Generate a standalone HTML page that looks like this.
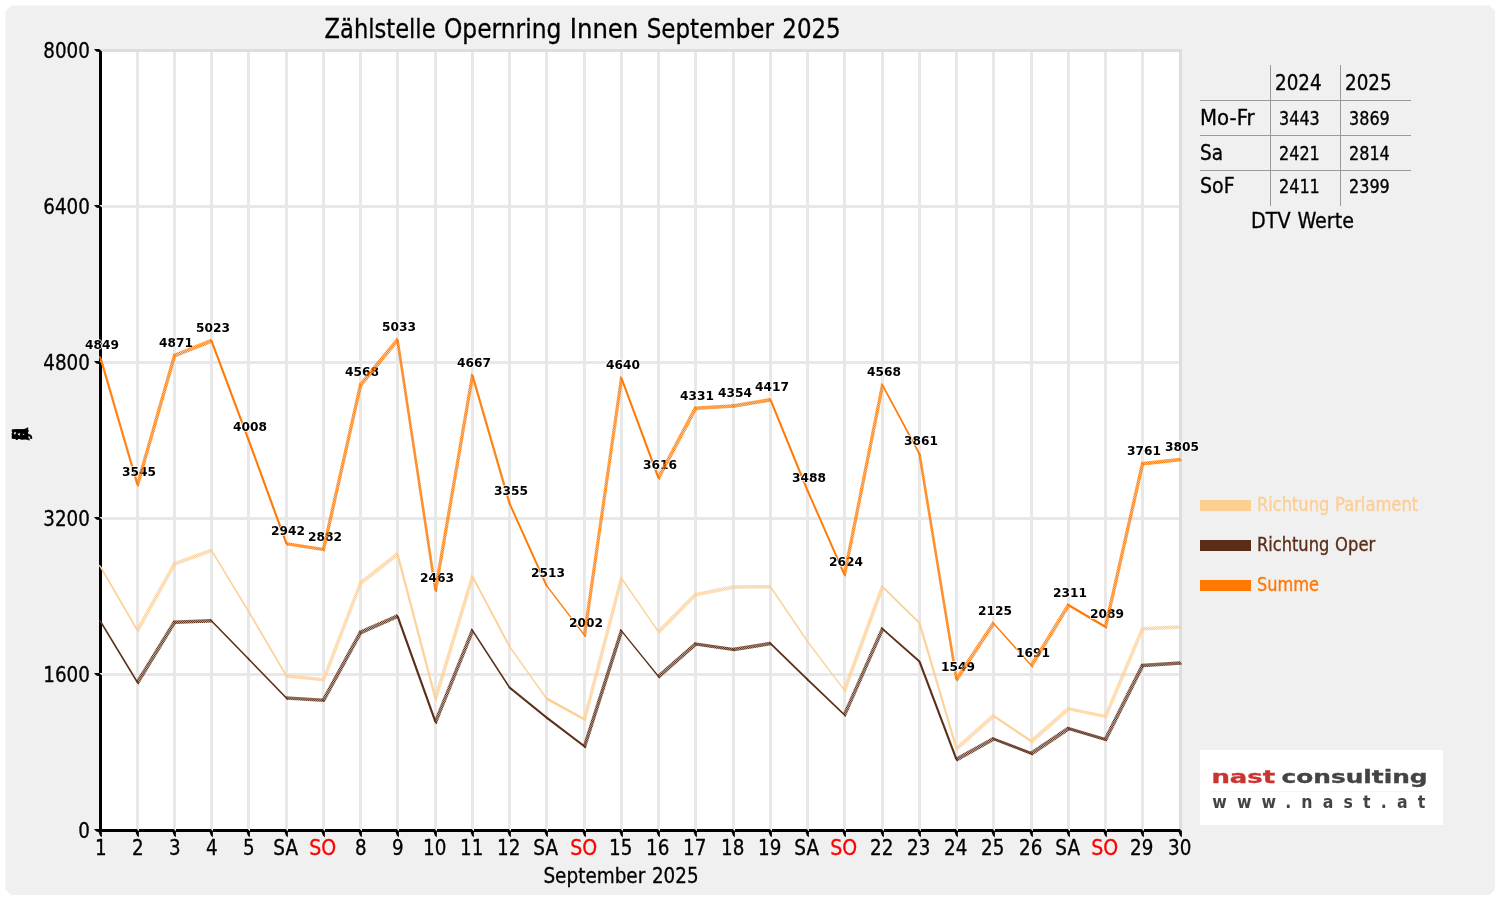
<!DOCTYPE html>
<html lang="de"><head><meta charset="utf-8"><title>Zählstelle Opernring Innen September 2025</title>
<style>
html,body{margin:0;padding:0;background:#fff;}
body{width:1500px;height:900px;overflow:hidden;}
svg{display:block;}
text{font-family:'DejaVu Sans Condensed','DejaVu Sans','Liberation Sans',sans-serif;stroke-width:0.3px;}
.dl{font-family:'DejaVu Sans','Liberation Sans',sans-serif;font-weight:bold;font-size:12.8px;paint-order:stroke;stroke:#fff;stroke-width:1.6px;stroke-linejoin:round;}
</style></head><body>
<svg width="1500" height="900" viewBox="0 0 1500 900">
<defs>
<pattern id="hp0" width="1.525" height="8" patternUnits="userSpaceOnUse" patternTransform="rotate(-40.3)"><rect width="1.525" height="8" fill="#fdcf95" fill-opacity="0.35"/><rect width="0.762" height="8" fill="#fdcf95"/></pattern>
<pattern id="hp1" width="1.525" height="8" patternUnits="userSpaceOnUse" patternTransform="rotate(-40.3)"><rect width="1.525" height="8" fill="#fdcf95" fill-opacity="0.45"/><rect width="0.762" height="8" fill="#fdcf95"/></pattern>
<pattern id="hp2" width="1.525" height="8" patternUnits="userSpaceOnUse" patternTransform="rotate(-40.3)"><rect width="1.525" height="8" fill="#fdcf95" fill-opacity="0.55"/><rect width="0.762" height="8" fill="#fdcf95"/></pattern>
<pattern id="hp3" width="1.525" height="8" patternUnits="userSpaceOnUse" patternTransform="rotate(-40.3)"><rect width="1.525" height="8" fill="#fdcf95" fill-opacity="0.65"/><rect width="0.762" height="8" fill="#fdcf95"/></pattern>
<pattern id="hp4" width="1.525" height="8" patternUnits="userSpaceOnUse" patternTransform="rotate(-40.3)"><rect width="1.525" height="8" fill="#fdcf95" fill-opacity="0.75"/><rect width="0.762" height="8" fill="#fdcf95"/></pattern>
<pattern id="hp5" width="1.525" height="8" patternUnits="userSpaceOnUse" patternTransform="rotate(-40.3)"><rect width="1.525" height="8" fill="#fdcf95" fill-opacity="0.85"/><rect width="0.762" height="8" fill="#fdcf95"/></pattern>
<pattern id="hp6" width="1.525" height="8" patternUnits="userSpaceOnUse" patternTransform="rotate(-40.3)"><rect width="1.525" height="8" fill="#fdcf95" fill-opacity="1.0"/><rect width="0.762" height="8" fill="#fdcf95"/></pattern>
<pattern id="ho0" width="1.525" height="8" patternUnits="userSpaceOnUse" patternTransform="rotate(-40.3)"><rect width="1.525" height="8" fill="#5a2e18" fill-opacity="0.35"/><rect width="0.762" height="8" fill="#5a2e18"/></pattern>
<pattern id="ho1" width="1.525" height="8" patternUnits="userSpaceOnUse" patternTransform="rotate(-40.3)"><rect width="1.525" height="8" fill="#5a2e18" fill-opacity="0.45"/><rect width="0.762" height="8" fill="#5a2e18"/></pattern>
<pattern id="ho2" width="1.525" height="8" patternUnits="userSpaceOnUse" patternTransform="rotate(-40.3)"><rect width="1.525" height="8" fill="#5a2e18" fill-opacity="0.55"/><rect width="0.762" height="8" fill="#5a2e18"/></pattern>
<pattern id="ho3" width="1.525" height="8" patternUnits="userSpaceOnUse" patternTransform="rotate(-40.3)"><rect width="1.525" height="8" fill="#5a2e18" fill-opacity="0.65"/><rect width="0.762" height="8" fill="#5a2e18"/></pattern>
<pattern id="ho4" width="1.525" height="8" patternUnits="userSpaceOnUse" patternTransform="rotate(-40.3)"><rect width="1.525" height="8" fill="#5a2e18" fill-opacity="0.75"/><rect width="0.762" height="8" fill="#5a2e18"/></pattern>
<pattern id="ho5" width="1.525" height="8" patternUnits="userSpaceOnUse" patternTransform="rotate(-40.3)"><rect width="1.525" height="8" fill="#5a2e18" fill-opacity="0.85"/><rect width="0.762" height="8" fill="#5a2e18"/></pattern>
<pattern id="ho6" width="1.525" height="8" patternUnits="userSpaceOnUse" patternTransform="rotate(-40.3)"><rect width="1.525" height="8" fill="#5a2e18" fill-opacity="1.0"/><rect width="0.762" height="8" fill="#5a2e18"/></pattern>
<pattern id="hs0" width="1.525" height="8" patternUnits="userSpaceOnUse" patternTransform="rotate(-40.3)"><rect width="1.525" height="8" fill="#ff7a05" fill-opacity="0.35"/><rect width="0.762" height="8" fill="#ff7a05"/></pattern>
<pattern id="hs1" width="1.525" height="8" patternUnits="userSpaceOnUse" patternTransform="rotate(-40.3)"><rect width="1.525" height="8" fill="#ff7a05" fill-opacity="0.45"/><rect width="0.762" height="8" fill="#ff7a05"/></pattern>
<pattern id="hs2" width="1.525" height="8" patternUnits="userSpaceOnUse" patternTransform="rotate(-40.3)"><rect width="1.525" height="8" fill="#ff7a05" fill-opacity="0.55"/><rect width="0.762" height="8" fill="#ff7a05"/></pattern>
<pattern id="hs3" width="1.525" height="8" patternUnits="userSpaceOnUse" patternTransform="rotate(-40.3)"><rect width="1.525" height="8" fill="#ff7a05" fill-opacity="0.65"/><rect width="0.762" height="8" fill="#ff7a05"/></pattern>
<pattern id="hs4" width="1.525" height="8" patternUnits="userSpaceOnUse" patternTransform="rotate(-40.3)"><rect width="1.525" height="8" fill="#ff7a05" fill-opacity="0.75"/><rect width="0.762" height="8" fill="#ff7a05"/></pattern>
<pattern id="hs5" width="1.525" height="8" patternUnits="userSpaceOnUse" patternTransform="rotate(-40.3)"><rect width="1.525" height="8" fill="#ff7a05" fill-opacity="0.85"/><rect width="0.762" height="8" fill="#ff7a05"/></pattern>
<pattern id="hs6" width="1.525" height="8" patternUnits="userSpaceOnUse" patternTransform="rotate(-40.3)"><rect width="1.525" height="8" fill="#ff7a05" fill-opacity="1.0"/><rect width="0.762" height="8" fill="#ff7a05"/></pattern>
</defs>
<rect width="1500" height="900" fill="#ffffff"/>
<polygon fill="#f0f0f0" points="11.0,5.5 1489.5,5.5 1495,11.0 1495,889.5 1489.5,895 11.0,895 5.5,889.5 5.5,11.0"/>
<rect x="100" y="49" width="1082" height="782" fill="#ffffff"/>
<g fill="#e8e8e8">
<rect x="136.0" y="49" width="3" height="781"/>
<rect x="173.0" y="49" width="3" height="781"/>
<rect x="210.0" y="49" width="3" height="781"/>
<rect x="247.0" y="49" width="3" height="781"/>
<rect x="285.0" y="49" width="3" height="781"/>
<rect x="322.0" y="49" width="3" height="781"/>
<rect x="359.0" y="49" width="3" height="781"/>
<rect x="396.0" y="49" width="3" height="781"/>
<rect x="434.0" y="49" width="3" height="781"/>
<rect x="471.0" y="49" width="3" height="781"/>
<rect x="508.0" y="49" width="3" height="781"/>
<rect x="545.0" y="49" width="3" height="781"/>
<rect x="583.0" y="49" width="3" height="781"/>
<rect x="620.0" y="49" width="3" height="781"/>
<rect x="657.0" y="49" width="3" height="781"/>
<rect x="694.0" y="49" width="3" height="781"/>
<rect x="732.0" y="49" width="3" height="781"/>
<rect x="769.0" y="49" width="3" height="781"/>
<rect x="806.0" y="49" width="3" height="781"/>
<rect x="843.0" y="49" width="3" height="781"/>
<rect x="881.0" y="49" width="3" height="781"/>
<rect x="918.0" y="49" width="3" height="781"/>
<rect x="955.0" y="49" width="3" height="781"/>
<rect x="992.0" y="49" width="3" height="781"/>
<rect x="1030.0" y="49" width="3" height="781"/>
<rect x="1067.0" y="49" width="3" height="781"/>
<rect x="1104.0" y="49" width="3" height="781"/>
<rect x="1141.0" y="49" width="3" height="781"/>
<rect x="100" y="673.00" width="1082" height="3"/>
<rect x="100" y="517.00" width="1082" height="3"/>
<rect x="100" y="361.00" width="1082" height="3"/>
<rect x="100" y="205.00" width="1082" height="3"/>
<rect x="100" y="49.00" width="1082" height="3"/>
</g>
<rect x="1179" y="49" width="3" height="781" fill="#dddddd"/>
<rect x="100" y="49" width="1082" height="3" fill="#dddddd"/>
<rect x="99" y="49" width="3" height="783" fill="#000"/>
<rect x="99" y="829" width="1083" height="3" fill="#000"/>
<g fill="#000">
<polygon points="98.1,829 101.9,831.5 101.9,837.3 100.0,835.7 98.2,831"/>
<polygon points="135.1,829 138.9,831.5 138.9,837.3 137.0,835.7 135.2,831"/>
<polygon fill="#e8e8e8" points="136.7,829 139.0,829 139.0,831.2"/>
<polygon points="172.1,829 175.9,831.5 175.9,837.3 174.0,835.7 172.2,831"/>
<polygon fill="#e8e8e8" points="173.7,829 176.0,829 176.0,831.2"/>
<polygon points="209.1,829 212.9,831.5 212.9,837.3 211.0,835.7 209.2,831"/>
<polygon fill="#e8e8e8" points="210.7,829 213.0,829 213.0,831.2"/>
<polygon points="246.1,829 249.9,831.5 249.9,837.3 248.0,835.7 246.2,831"/>
<polygon fill="#e8e8e8" points="247.7,829 250.0,829 250.0,831.2"/>
<polygon points="284.1,829 287.9,831.5 287.9,837.3 286.0,835.7 284.2,831"/>
<polygon fill="#e8e8e8" points="285.7,829 288.0,829 288.0,831.2"/>
<polygon points="321.1,829 324.9,831.5 324.9,837.3 323.0,835.7 321.2,831"/>
<polygon fill="#e8e8e8" points="322.7,829 325.0,829 325.0,831.2"/>
<polygon points="358.1,829 361.9,831.5 361.9,837.3 360.0,835.7 358.2,831"/>
<polygon fill="#e8e8e8" points="359.7,829 362.0,829 362.0,831.2"/>
<polygon points="395.1,829 398.9,831.5 398.9,837.3 397.0,835.7 395.2,831"/>
<polygon fill="#e8e8e8" points="396.7,829 399.0,829 399.0,831.2"/>
<polygon points="433.1,829 436.9,831.5 436.9,837.3 435.0,835.7 433.2,831"/>
<polygon fill="#e8e8e8" points="434.7,829 437.0,829 437.0,831.2"/>
<polygon points="470.1,829 473.9,831.5 473.9,837.3 472.0,835.7 470.2,831"/>
<polygon fill="#e8e8e8" points="471.7,829 474.0,829 474.0,831.2"/>
<polygon points="507.1,829 510.9,831.5 510.9,837.3 509.0,835.7 507.2,831"/>
<polygon fill="#e8e8e8" points="508.7,829 511.0,829 511.0,831.2"/>
<polygon points="544.1,829 547.9,831.5 547.9,837.3 546.0,835.7 544.2,831"/>
<polygon fill="#e8e8e8" points="545.7,829 548.0,829 548.0,831.2"/>
<polygon points="582.1,829 585.9,831.5 585.9,837.3 584.0,835.7 582.2,831"/>
<polygon fill="#e8e8e8" points="583.7,829 586.0,829 586.0,831.2"/>
<polygon points="619.1,829 622.9,831.5 622.9,837.3 621.0,835.7 619.2,831"/>
<polygon fill="#e8e8e8" points="620.7,829 623.0,829 623.0,831.2"/>
<polygon points="656.1,829 659.9,831.5 659.9,837.3 658.0,835.7 656.2,831"/>
<polygon fill="#e8e8e8" points="657.7,829 660.0,829 660.0,831.2"/>
<polygon points="693.1,829 696.9,831.5 696.9,837.3 695.0,835.7 693.2,831"/>
<polygon fill="#e8e8e8" points="694.7,829 697.0,829 697.0,831.2"/>
<polygon points="731.1,829 734.9,831.5 734.9,837.3 733.0,835.7 731.2,831"/>
<polygon fill="#e8e8e8" points="732.7,829 735.0,829 735.0,831.2"/>
<polygon points="768.1,829 771.9,831.5 771.9,837.3 770.0,835.7 768.2,831"/>
<polygon fill="#e8e8e8" points="769.7,829 772.0,829 772.0,831.2"/>
<polygon points="805.1,829 808.9,831.5 808.9,837.3 807.0,835.7 805.2,831"/>
<polygon fill="#e8e8e8" points="806.7,829 809.0,829 809.0,831.2"/>
<polygon points="842.1,829 845.9,831.5 845.9,837.3 844.0,835.7 842.2,831"/>
<polygon fill="#e8e8e8" points="843.7,829 846.0,829 846.0,831.2"/>
<polygon points="880.1,829 883.9,831.5 883.9,837.3 882.0,835.7 880.2,831"/>
<polygon fill="#e8e8e8" points="881.7,829 884.0,829 884.0,831.2"/>
<polygon points="917.1,829 920.9,831.5 920.9,837.3 919.0,835.7 917.2,831"/>
<polygon fill="#e8e8e8" points="918.7,829 921.0,829 921.0,831.2"/>
<polygon points="954.1,829 957.9,831.5 957.9,837.3 956.0,835.7 954.2,831"/>
<polygon fill="#e8e8e8" points="955.7,829 958.0,829 958.0,831.2"/>
<polygon points="991.1,829 994.9,831.5 994.9,837.3 993.0,835.7 991.2,831"/>
<polygon fill="#e8e8e8" points="992.7,829 995.0,829 995.0,831.2"/>
<polygon points="1029.1,829 1032.9,831.5 1032.9,837.3 1031.0,835.7 1029.2,831"/>
<polygon fill="#e8e8e8" points="1030.7,829 1033.0,829 1033.0,831.2"/>
<polygon points="1066.1,829 1069.9,831.5 1069.9,837.3 1068.0,835.7 1066.2,831"/>
<polygon fill="#e8e8e8" points="1067.7,829 1070.0,829 1070.0,831.2"/>
<polygon points="1103.1,829 1106.9,831.5 1106.9,837.3 1105.0,835.7 1103.2,831"/>
<polygon fill="#e8e8e8" points="1104.7,829 1107.0,829 1107.0,831.2"/>
<polygon points="1140.1,829 1143.9,831.5 1143.9,837.3 1142.0,835.7 1140.2,831"/>
<polygon fill="#e8e8e8" points="1141.7,829 1144.0,829 1144.0,831.2"/>
<polygon points="1178.1,829 1181.9,831.5 1181.9,837.3 1180.0,835.7 1178.2,831"/>
<polygon fill="#dddddd" points="1179.7,829 1182.0,829 1182.0,831.2"/>
<polygon points="94,829.00 99.0,829.00 102,831.80 102,832.00 99,832.00 96.2,831.50"/>
<polygon points="94,673.00 99.0,673.00 102,675.80 102,676.00 99,676.00 96.2,675.50"/>
<polygon fill="#e8e8e8" points="99.2,673.00 102,673.00 102,675.60"/>
<polygon points="94,517.00 99.0,517.00 102,519.80 102,520.00 99,520.00 96.2,519.50"/>
<polygon fill="#e8e8e8" points="99.2,517.00 102,517.00 102,519.60"/>
<polygon points="94,361.00 99.0,361.00 102,363.80 102,364.00 99,364.00 96.2,363.50"/>
<polygon fill="#e8e8e8" points="99.2,361.00 102,361.00 102,363.60"/>
<polygon points="94,205.00 99.0,205.00 102,207.80 102,208.00 99,208.00 96.2,207.50"/>
<polygon fill="#e8e8e8" points="99.2,205.00 102,205.00 102,207.60"/>
<polygon points="94,49.00 99.0,49.00 102,51.80 102,52.00 99,52.00 96.2,51.50"/>
<polygon fill="#e8e8e8" points="99.2,49.00 102,49.00 102,51.60"/>
</g>
<polygon fill="url(#hp6)" points="99.00,565.66 99.09,565.34 99.33,565.10 99.65,565.01 99.98,565.10 100.21,565.34 101.91,567.54 138.91,631.21 139.00,631.53 138.91,631.86 138.67,632.09 138.35,632.18 138.03,632.09 137.79,631.86 136.09,629.66 99.09,565.99"/>
<polygon fill="url(#hp0)" points="136.00,629.33 136.09,629.00 173.09,562.51 173.33,562.27 173.65,562.18 173.97,562.27 174.21,562.51 175.91,564.71 176.00,565.03 175.91,565.36 138.91,631.86 138.67,632.09 138.35,632.18 138.03,632.09 137.79,631.86 136.09,629.66"/>
<polygon fill="url(#hp0)" points="173.00,562.83 173.09,562.51 173.33,562.27 210.33,548.72 210.65,548.63 210.97,548.72 211.21,548.96 212.91,551.16 213.00,551.48 212.91,551.81 212.67,552.05 175.67,565.60 175.35,565.68 175.03,565.60 174.79,565.36 173.09,563.16"/>
<polygon fill="url(#hp6)" points="210.00,549.28 210.09,548.96 210.33,548.72 210.65,548.63 210.97,548.72 211.21,548.96 212.91,551.16 249.91,612.09 250.00,612.42 249.91,612.75 249.67,612.98 249.35,613.07 249.03,612.98 248.79,612.75 247.09,610.54 210.09,549.61"/>
<polygon fill="url(#hp6)" points="247.00,610.22 247.09,609.89 247.33,609.66 247.65,609.57 247.97,609.66 248.21,609.89 249.91,612.09 287.91,676.83 288.00,677.16 287.91,677.49 287.68,677.72 287.35,677.81 287.03,677.72 286.79,677.49 285.09,675.28 247.09,610.54"/>
<polygon fill="url(#hp2)" points="285.00,674.96 285.09,674.63 285.32,674.40 285.65,674.31 322.65,678.11 322.97,678.20 323.21,678.44 324.91,680.64 325.00,680.96 324.91,681.29 324.68,681.53 324.35,681.61 287.35,677.81 287.03,677.72 286.79,677.49 285.09,675.28"/>
<polygon fill="url(#hp0)" points="322.00,678.76 322.09,678.44 359.09,581.72 359.32,581.48 359.65,581.39 359.97,581.48 360.21,581.72 361.91,583.92 362.00,584.24 361.91,584.57 324.91,681.29 324.68,681.53 324.35,681.61 324.03,681.53 323.79,681.29 322.09,679.09"/>
<polygon fill="url(#hp0)" points="359.00,582.04 359.09,581.72 359.32,581.48 396.32,552.52 396.65,552.43 396.97,552.52 397.21,552.76 398.91,554.96 399.00,555.28 398.91,555.61 398.68,555.85 361.68,584.81 361.35,584.89 361.03,584.81 360.79,584.57 359.09,582.37"/>
<polygon fill="url(#hp5)" points="396.00,553.08 396.09,552.76 396.32,552.52 396.65,552.43 396.97,552.52 397.21,552.76 398.91,554.96 399.00,555.28 437.00,699.88 436.91,700.20 436.68,700.44 436.35,700.53 436.03,700.44 435.79,700.20 434.09,698.00 434.00,697.68"/>
<polygon fill="url(#hp1)" points="434.00,697.68 434.09,697.35 471.09,575.09 471.32,574.85 471.65,574.76 471.97,574.85 472.21,575.09 473.91,577.29 474.00,577.61 473.91,577.94 436.91,700.20 436.68,700.44 436.35,700.53 436.03,700.44 435.79,700.20 434.09,698.00"/>
<polygon fill="url(#hp6)" points="471.00,575.41 471.09,575.09 471.32,574.85 471.65,574.76 471.97,574.85 472.21,575.09 473.91,577.29 510.91,647.19 511.00,647.52 510.91,647.85 510.68,648.08 510.35,648.17 510.03,648.08 509.79,647.85 508.09,645.64 471.09,575.74"/>
<polygon fill="url(#hp6)" points="508.00,645.32 508.09,644.99 508.32,644.76 508.65,644.67 508.97,644.76 509.21,644.99 510.91,647.19 547.91,699.26 548.00,699.59 547.91,699.91 547.68,700.15 547.35,700.24 547.02,700.15 546.79,699.91 545.09,697.71 508.09,645.64"/>
<polygon fill="url(#hp6)" points="545.00,697.38 545.09,697.06 545.32,696.82 545.65,696.74 545.98,696.82 583.98,717.69 584.21,717.92 585.91,720.12 586.00,720.45 585.91,720.78 585.68,721.01 585.35,721.10 585.02,721.01 547.02,700.15 546.79,699.91 545.09,697.71"/>
<polygon fill="url(#hp1)" points="583.00,718.25 620.00,577.07 620.09,576.74 620.32,576.51 620.65,576.42 620.98,576.51 621.21,576.74 622.91,578.94 623.00,579.27 586.00,720.45 585.91,720.78 585.68,721.01 585.35,721.10 585.02,721.01 584.79,720.78 583.09,718.58"/>
<polygon fill="url(#hp6)" points="620.00,577.07 620.09,576.74 620.32,576.51 620.65,576.42 620.98,576.51 621.21,576.74 622.91,578.94 659.91,632.67 660.00,632.99 659.91,633.32 659.68,633.56 659.35,633.64 659.02,633.56 658.79,633.32 657.09,631.12 620.09,577.39"/>
<polygon fill="url(#hp0)" points="657.00,630.79 657.09,630.47 694.09,593.22 694.32,592.98 694.65,592.90 694.98,592.98 695.21,593.22 696.91,595.42 697.00,595.75 696.91,596.07 659.91,633.32 659.68,633.56 659.35,633.64 659.02,633.56 658.79,633.32 657.09,631.12"/>
<polygon fill="url(#hp0)" points="694.00,593.55 694.09,593.22 694.32,592.98 694.65,592.90 732.65,585.19 732.98,585.28 733.21,585.52 734.91,587.72 735.00,588.04 734.91,588.37 734.68,588.61 734.35,588.69 696.35,596.40 696.02,596.31 695.79,596.07 694.09,593.87"/>
<polygon fill="url(#hp1)" points="732.00,585.84 732.09,585.52 732.32,585.28 732.65,585.19 769.65,585.10 769.98,585.18 770.21,585.42 771.91,587.62 772.00,587.95 771.91,588.27 771.68,588.51 771.35,588.60 734.35,588.69 734.02,588.61 733.79,588.37 732.09,586.17"/>
<polygon fill="url(#hp6)" points="769.00,585.75 769.09,585.42 769.32,585.18 769.65,585.10 769.98,585.18 770.21,585.42 771.91,587.62 808.91,642.22 809.00,642.55 808.91,642.87 808.68,643.11 808.35,643.20 808.02,643.11 807.79,642.87 806.09,640.67 769.09,586.07"/>
<polygon fill="url(#hp6)" points="806.00,640.35 806.09,640.02 806.32,639.78 806.65,639.70 806.98,639.78 807.21,640.02 808.91,642.22 845.91,691.07 846.00,691.39 845.91,691.72 845.68,691.96 845.35,692.04 845.02,691.96 844.79,691.72 843.09,689.52 806.09,640.67"/>
<polygon fill="url(#hp1)" points="843.00,689.19 843.09,688.87 881.09,585.32 881.32,585.09 881.65,585.00 881.98,585.09 882.21,585.32 883.91,587.52 884.00,587.85 883.91,588.18 845.91,691.72 845.68,691.96 845.35,692.04 845.02,691.96 844.79,691.72 843.09,689.52"/>
<polygon fill="url(#hp6)" points="881.00,585.65 881.09,585.32 881.32,585.09 881.65,585.00 881.98,585.09 918.98,621.36 919.21,621.59 920.91,623.79 921.00,624.12 920.91,624.45 920.68,624.68 920.35,624.77 920.02,624.68 883.02,588.41 882.79,588.18 881.09,585.98"/>
<polygon fill="url(#hp5)" points="918.00,621.92 918.09,621.59 918.32,621.36 918.65,621.27 918.98,621.36 919.21,621.59 920.91,623.79 957.91,749.38 958.00,749.70 957.91,750.03 957.68,750.26 957.35,750.35 957.02,750.26 956.79,750.03 955.09,747.83 918.09,622.25"/>
<polygon fill="url(#hp0)" points="955.00,747.50 955.09,747.17 955.32,746.94 992.32,714.27 992.65,714.19 992.98,714.27 993.21,714.51 994.91,716.71 995.00,717.04 994.91,717.36 994.68,717.60 957.68,750.26 957.35,750.35 957.02,750.26 956.79,750.03 955.09,747.83"/>
<polygon fill="url(#hp6)" points="992.00,714.84 992.09,714.51 992.32,714.27 992.65,714.19 992.98,714.27 1030.98,739.62 1031.21,739.86 1032.91,742.06 1033.00,742.39 1032.91,742.71 1032.67,742.95 1032.35,743.04 1032.02,742.95 994.02,717.60 993.79,717.36 992.09,715.16"/>
<polygon fill="url(#hp0)" points="1030.00,740.19 1030.09,739.86 1030.33,739.62 1067.33,706.96 1067.65,706.88 1067.98,706.96 1068.21,707.20 1069.91,709.40 1070.00,709.73 1069.91,710.05 1069.67,710.29 1032.67,742.95 1032.35,743.04 1032.02,742.95 1031.79,742.71 1030.09,740.51"/>
<polygon fill="url(#hp2)" points="1067.00,707.52 1067.09,707.20 1067.33,706.96 1067.65,706.88 1104.65,714.87 1104.98,714.96 1105.21,715.19 1106.91,717.39 1107.00,717.72 1106.91,718.05 1106.67,718.28 1106.35,718.37 1069.35,710.38 1069.02,710.29 1068.79,710.05 1067.09,707.85"/>
<polygon fill="url(#hp0)" points="1104.00,715.52 1104.09,715.19 1141.09,627.35 1141.33,627.11 1141.65,627.02 1141.98,627.11 1142.21,627.35 1143.91,629.55 1144.00,629.87 1143.91,630.20 1106.91,718.05 1106.67,718.28 1106.35,718.37 1106.02,718.28 1105.79,718.05 1104.09,715.85"/>
<polygon fill="url(#hp1)" points="1141.00,627.67 1141.09,627.35 1141.33,627.11 1141.65,627.02 1179.65,625.37 1179.98,625.45 1180.21,625.69 1181.91,627.89 1182.00,628.22 1181.91,628.54 1181.67,628.78 1181.35,628.87 1143.35,630.52 1143.02,630.44 1142.79,630.20 1141.09,628.00"/>
<polygon fill="url(#ho6)" points="99.00,620.36 99.09,620.03 99.33,619.80 99.65,619.71 99.98,619.80 100.21,620.03 101.91,622.24 138.91,683.27 139.00,683.60 138.91,683.92 138.67,684.16 138.35,684.25 138.03,684.16 137.79,683.92 136.09,681.72 99.09,620.69"/>
<polygon fill="url(#ho0)" points="136.00,681.39 136.09,681.07 173.09,620.72 173.33,620.48 173.65,620.39 173.97,620.48 174.21,620.72 175.91,622.92 176.00,623.24 175.91,623.57 138.91,683.92 138.67,684.16 138.35,684.25 138.03,684.16 137.79,683.92 136.09,681.72"/>
<polygon fill="url(#ho1)" points="173.00,621.04 173.09,620.72 173.33,620.48 173.65,620.39 210.65,619.12 210.97,619.21 211.21,619.45 212.91,621.65 213.00,621.98 212.91,622.30 212.67,622.54 212.35,622.62 175.35,623.89 175.03,623.81 174.79,623.57 173.09,621.37"/>
<polygon fill="url(#ho6)" points="210.00,619.77 210.09,619.45 210.33,619.21 210.65,619.12 210.97,619.21 211.21,619.45 248.21,657.47 249.91,659.67 250.00,660.00 249.91,660.33 249.67,660.56 249.35,660.65 249.03,660.56 248.79,660.33 211.79,622.30 210.09,620.10"/>
<polygon fill="url(#ho6)" points="247.00,657.80 247.09,657.47 247.33,657.24 247.65,657.15 247.97,657.24 248.21,657.47 286.21,696.67 287.91,698.87 288.00,699.20 287.91,699.52 287.68,699.76 287.35,699.85 287.03,699.76 286.79,699.52 248.79,660.33 247.09,658.12"/>
<polygon fill="url(#ho1)" points="285.00,697.00 285.09,696.67 285.32,696.43 285.65,696.35 322.65,698.39 322.97,698.48 323.21,698.72 324.91,700.92 325.00,701.24 324.91,701.57 324.68,701.81 324.35,701.89 287.35,699.85 287.03,699.76 286.79,699.52 285.09,697.32"/>
<polygon fill="url(#ho0)" points="322.00,699.04 322.09,698.72 359.09,631.05 359.32,630.81 359.65,630.73 359.97,630.81 360.21,631.05 361.91,633.25 362.00,633.58 361.91,633.90 324.91,701.57 324.68,701.81 324.35,701.89 324.03,701.81 323.79,701.57 322.09,699.37"/>
<polygon fill="url(#ho0)" points="359.00,631.38 359.09,631.05 359.32,630.81 396.32,614.43 396.65,614.35 396.97,614.43 397.21,614.67 398.91,616.87 399.00,617.20 398.91,617.52 398.68,617.76 361.68,634.14 361.35,634.23 361.03,634.14 360.79,633.90 359.09,631.70"/>
<polygon fill="url(#ho6)" points="396.00,615.00 396.09,614.67 396.32,614.43 396.65,614.35 396.97,614.43 397.21,614.67 398.91,616.87 436.91,722.86 437.00,723.18 436.91,723.51 436.68,723.74 436.35,723.83 436.03,723.74 435.79,723.51 434.09,721.31 396.09,615.32"/>
<polygon fill="url(#ho0)" points="434.00,720.98 434.09,720.65 471.09,629.10 471.32,628.86 471.65,628.78 471.97,628.86 472.21,629.10 473.91,631.30 474.00,631.63 473.91,631.95 436.91,723.51 436.68,723.74 436.35,723.83 436.03,723.74 435.79,723.51 434.09,721.31"/>
<polygon fill="url(#ho6)" points="471.00,629.43 471.09,629.10 471.32,628.86 471.65,628.78 471.97,628.86 472.21,629.10 473.91,631.30 510.91,688.24 511.00,688.57 510.91,688.89 510.68,689.13 510.35,689.22 510.03,689.13 509.79,688.89 508.09,686.69 471.09,629.75"/>
<polygon fill="url(#ho6)" points="508.00,686.37 508.09,686.04 508.32,685.80 508.65,685.72 508.97,685.80 545.98,715.83 546.21,716.07 547.91,718.27 548.00,718.60 547.91,718.92 547.68,719.16 547.35,719.25 547.02,719.16 510.03,689.13 509.79,688.89 508.09,686.69"/>
<polygon fill="url(#ho6)" points="545.00,716.40 545.09,716.07 545.32,715.83 545.65,715.75 545.98,715.83 583.98,744.79 584.21,745.03 585.91,747.23 586.00,747.56 585.91,747.88 585.68,748.12 585.35,748.21 585.02,748.12 547.02,719.16 546.79,718.92 545.09,716.72"/>
<polygon fill="url(#ho1)" points="583.00,745.36 583.09,745.03 620.09,629.49 620.32,629.25 620.65,629.17 620.98,629.25 621.21,629.49 622.91,631.69 623.00,632.02 622.91,632.34 585.91,747.88 585.68,748.12 585.35,748.21 585.02,748.12 584.79,747.88 583.09,745.68"/>
<polygon fill="url(#ho6)" points="620.00,629.82 620.09,629.49 620.32,629.25 620.65,629.17 620.98,629.25 621.21,629.49 658.21,675.12 659.91,677.32 660.00,677.65 659.91,677.97 659.68,678.21 659.35,678.30 659.02,678.21 658.79,677.97 621.79,632.34 620.09,630.14"/>
<polygon fill="url(#ho0)" points="657.00,675.45 657.09,675.12 657.32,674.88 694.32,642.42 694.65,642.33 694.98,642.42 695.21,642.65 696.91,644.85 697.00,645.18 696.91,645.50 696.68,645.74 659.68,678.21 659.35,678.30 659.02,678.21 658.79,677.97 657.09,675.77"/>
<polygon fill="url(#ho2)" points="694.00,642.98 694.09,642.65 694.32,642.42 694.65,642.33 732.65,647.79 732.98,647.88 733.21,648.11 734.91,650.31 735.00,650.64 734.91,650.97 734.68,651.20 734.35,651.29 696.35,645.83 696.02,645.74 695.79,645.50 694.09,643.30"/>
<polygon fill="url(#ho1)" points="732.00,648.44 732.09,648.11 732.32,647.88 732.65,647.79 769.65,641.75 769.98,641.83 770.21,642.07 771.91,644.27 772.00,644.60 771.91,644.92 771.68,645.16 771.35,645.25 734.35,651.29 734.02,651.20 733.79,650.97 732.09,648.76"/>
<polygon fill="url(#ho6)" points="769.00,642.39 769.09,642.07 769.32,641.83 769.65,641.75 769.98,641.83 806.98,677.81 807.21,678.05 808.91,680.25 809.00,680.57 808.91,680.90 808.68,681.14 808.35,681.22 808.02,681.14 771.02,645.16 770.79,644.92 769.09,642.72"/>
<polygon fill="url(#ho6)" points="806.00,678.37 806.09,678.05 806.32,677.81 806.65,677.72 806.98,677.81 843.98,713.20 844.21,713.44 845.91,715.64 846.00,715.97 845.91,716.29 845.68,716.53 845.35,716.62 845.02,716.53 808.02,681.14 807.79,680.90 806.09,678.70"/>
<polygon fill="url(#ho0)" points="843.00,713.76 843.09,713.44 881.09,627.44 881.32,627.21 881.65,627.12 881.98,627.21 882.21,627.44 883.91,629.64 884.00,629.97 883.91,630.30 845.91,716.29 845.68,716.53 845.35,716.62 845.02,716.53 844.79,716.29 843.09,714.09"/>
<polygon fill="url(#ho6)" points="881.00,627.77 881.09,627.44 881.32,627.21 881.65,627.12 881.98,627.21 918.98,659.87 919.21,660.11 920.91,662.31 921.00,662.63 920.91,662.96 920.68,663.20 920.35,663.28 920.02,663.20 883.02,630.53 882.79,630.30 881.09,628.10"/>
<polygon fill="url(#ho6)" points="918.00,660.43 918.09,660.11 918.32,659.87 918.65,659.78 918.98,659.87 919.21,660.11 920.91,662.31 957.91,760.29 958.00,760.62 957.91,760.95 957.68,761.18 957.35,761.27 957.02,761.18 956.79,760.95 955.09,758.75 918.09,660.76"/>
<polygon fill="url(#ho0)" points="955.00,758.42 955.09,758.09 955.32,757.86 992.32,737.28 992.65,737.20 992.98,737.28 993.21,737.52 994.91,739.72 995.00,740.05 994.91,740.37 994.68,740.61 957.68,761.18 957.35,761.27 957.02,761.18 956.79,760.95 955.09,758.75"/>
<polygon fill="url(#ho4)" points="992.00,737.85 992.09,737.52 992.32,737.28 992.65,737.20 992.98,737.28 1030.98,751.81 1031.21,752.05 1032.91,754.25 1033.00,754.58 1032.91,754.90 1032.67,755.14 1032.35,755.23 1032.02,755.14 994.02,740.61 993.79,740.37 992.09,738.17"/>
<polygon fill="url(#ho0)" points="1030.00,752.38 1030.09,752.05 1030.33,751.81 1067.33,726.85 1067.65,726.76 1067.98,726.85 1068.21,727.09 1069.91,729.29 1070.00,729.62 1069.91,729.94 1069.67,730.18 1032.67,755.14 1032.35,755.23 1032.02,755.14 1031.79,754.90 1030.09,752.70"/>
<polygon fill="url(#ho3)" points="1067.00,727.41 1067.09,727.09 1067.33,726.85 1067.65,726.76 1067.98,726.85 1104.98,737.87 1105.21,738.11 1106.91,740.31 1107.00,740.63 1106.91,740.96 1106.67,741.20 1106.35,741.28 1106.02,741.20 1069.02,730.18 1068.79,729.94 1067.09,727.74"/>
<polygon fill="url(#ho0)" points="1104.00,738.43 1104.09,738.11 1141.09,664.10 1141.33,663.87 1141.65,663.78 1141.98,663.87 1142.21,664.10 1143.91,666.30 1144.00,666.63 1143.91,666.96 1106.91,740.96 1106.67,741.20 1106.35,741.28 1106.02,741.20 1105.79,740.96 1104.09,738.76"/>
<polygon fill="url(#ho1)" points="1141.00,664.43 1141.09,664.10 1141.33,663.87 1141.65,663.78 1179.65,661.15 1179.98,661.23 1180.21,661.47 1181.91,663.67 1182.00,664.00 1181.91,664.32 1181.67,664.56 1181.35,664.65 1143.35,667.28 1143.02,667.19 1142.79,666.96 1141.09,664.75"/>
<text class="dl" x="85.1" y="349.0" textLength="34.0" lengthAdjust="spacingAndGlyphs">4849</text>
<polygon fill="url(#hs5)" points="99.00,356.62 99.09,356.30 99.33,356.06 99.65,355.97 99.98,356.06 100.21,356.30 101.91,358.50 138.91,485.64 139.00,485.96 138.91,486.29 138.67,486.53 138.35,486.61 138.03,486.53 137.79,486.29 136.09,484.09 99.09,356.95"/>
<text class="dl" x="122.1" y="476.2" textLength="34.0" lengthAdjust="spacingAndGlyphs">3545</text>
<polygon fill="url(#hs1)" points="136.00,483.76 136.09,483.44 173.09,354.15 173.33,353.91 173.65,353.83 173.97,353.91 174.21,354.15 175.91,356.35 176.00,356.68 175.91,357.00 138.91,486.29 138.67,486.53 138.35,486.61 138.03,486.53 137.79,486.29 136.09,484.09"/>
<text class="dl" x="159.1" y="346.9" textLength="34.0" lengthAdjust="spacingAndGlyphs">4871</text>
<polygon fill="url(#hs0)" points="173.00,354.48 173.09,354.15 173.33,353.91 210.33,339.09 210.65,339.01 210.97,339.09 211.21,339.33 212.91,341.53 213.00,341.86 212.91,342.18 212.67,342.42 175.67,357.24 175.35,357.33 175.03,357.24 174.79,357.00 173.09,354.80"/>
<text class="dl" x="196.1" y="332.1" textLength="34.0" lengthAdjust="spacingAndGlyphs">5023</text>
<polygon fill="url(#hs6)" points="210.00,339.66 210.09,339.33 210.33,339.09 210.65,339.01 210.97,339.09 211.21,339.33 212.91,341.53 249.91,440.50 250.00,440.82 249.91,441.14 249.67,441.38 249.35,441.47 249.03,441.38 248.79,441.14 247.09,438.94 210.09,339.98"/>
<text class="dl" x="233.1" y="431.0" textLength="34.0" lengthAdjust="spacingAndGlyphs">4008</text>
<polygon fill="url(#hs6)" points="247.00,438.62 247.09,438.29 247.33,438.06 247.65,437.97 247.97,438.06 248.21,438.29 249.91,440.50 287.91,544.43 288.00,544.75 287.91,545.08 287.68,545.32 287.35,545.40 287.03,545.32 286.79,545.08 285.09,542.88 247.09,438.94"/>
<text class="dl" x="271.1" y="535.0" textLength="34.0" lengthAdjust="spacingAndGlyphs">2942</text>
<polygon fill="url(#hs2)" points="285.00,542.55 285.09,542.23 285.32,541.99 285.65,541.90 322.65,547.75 322.97,547.84 323.21,548.08 324.91,550.28 325.00,550.61 324.91,550.93 324.68,551.17 324.35,551.25 287.35,545.40 287.03,545.32 286.79,545.08 285.09,542.88"/>
<text class="dl" x="308.1" y="540.8" textLength="34.0" lengthAdjust="spacingAndGlyphs">2882</text>
<polygon fill="url(#hs1)" points="322.00,548.40 359.00,384.02 359.09,383.69 359.32,383.46 359.65,383.37 359.97,383.46 360.21,383.69 361.91,385.90 362.00,386.22 325.00,550.61 324.91,550.93 324.68,551.17 324.35,551.25 324.03,551.17 323.79,550.93 322.09,548.73"/>
<text class="dl" x="345.1" y="376.4" textLength="34.0" lengthAdjust="spacingAndGlyphs">4568</text>
<polygon fill="url(#hs0)" points="359.00,384.02 359.09,383.69 396.09,338.36 396.32,338.12 396.65,338.03 396.97,338.12 397.21,338.36 398.91,340.56 399.00,340.88 398.91,341.21 361.91,386.55 361.68,386.78 361.35,386.87 361.03,386.78 360.79,386.55 359.09,384.34"/>
<text class="dl" x="382.1" y="331.1" textLength="34.0" lengthAdjust="spacingAndGlyphs">5033</text>
<polygon fill="url(#hs3)" points="396.00,338.68 396.09,338.36 396.32,338.12 396.65,338.03 396.97,338.12 397.21,338.36 398.91,340.56 399.00,340.88 437.00,591.46 436.91,591.78 436.68,592.02 436.35,592.11 436.03,592.02 435.79,591.78 434.09,589.58 434.00,589.26"/>
<text class="dl" x="420.1" y="581.7" textLength="34.0" lengthAdjust="spacingAndGlyphs">2463</text>
<polygon fill="url(#hs1)" points="434.00,589.26 471.00,374.37 471.09,374.04 471.32,373.80 471.65,373.72 471.97,373.80 472.21,374.04 473.91,376.24 474.00,376.57 437.00,591.46 436.91,591.78 436.68,592.02 436.35,592.11 436.03,592.02 435.79,591.78 434.09,589.58"/>
<text class="dl" x="457.1" y="366.8" textLength="34.0" lengthAdjust="spacingAndGlyphs">4667</text>
<polygon fill="url(#hs5)" points="471.00,374.37 471.09,374.04 471.32,373.80 471.65,373.72 471.97,373.80 472.21,374.04 473.91,376.24 510.91,504.16 511.00,504.49 510.91,504.81 510.68,505.05 510.35,505.14 510.03,505.05 509.79,504.81 508.09,502.61 471.09,374.69"/>
<text class="dl" x="494.1" y="494.7" textLength="34.0" lengthAdjust="spacingAndGlyphs">3355</text>
<polygon fill="url(#hs6)" points="508.00,502.29 508.09,501.96 508.32,501.72 508.65,501.64 508.97,501.72 509.21,501.96 510.91,504.16 547.91,586.26 548.00,586.58 547.91,586.91 547.68,587.15 547.35,587.23 547.02,587.15 546.79,586.91 545.09,584.71 508.09,502.61"/>
<text class="dl" x="531.1" y="576.8" textLength="34.0" lengthAdjust="spacingAndGlyphs">2513</text>
<polygon fill="url(#hs6)" points="545.00,584.38 545.09,584.06 545.32,583.82 545.65,583.73 545.98,583.82 546.21,584.06 547.91,586.26 585.91,636.08 586.00,636.41 585.91,636.73 585.68,636.97 585.35,637.06 585.02,636.97 584.79,636.73 583.09,634.53 545.09,584.71"/>
<text class="dl" x="569.1" y="626.6" textLength="34.0" lengthAdjust="spacingAndGlyphs">2002</text>
<polygon fill="url(#hs1)" points="583.00,634.21 620.00,377.00 620.09,376.67 620.32,376.44 620.65,376.35 620.98,376.44 621.21,376.67 622.91,378.88 623.00,379.20 586.00,636.41 585.91,636.73 585.68,636.97 585.35,637.06 585.02,636.97 584.79,636.73 583.09,634.53"/>
<text class="dl" x="606.1" y="369.4" textLength="34.0" lengthAdjust="spacingAndGlyphs">4640</text>
<polygon fill="url(#hs6)" points="620.00,377.00 620.09,376.67 620.32,376.44 620.65,376.35 620.98,376.44 621.21,376.67 622.91,378.88 659.91,478.72 660.00,479.04 659.91,479.37 659.68,479.60 659.35,479.69 659.02,479.60 658.79,479.37 657.09,477.16 620.09,377.32"/>
<text class="dl" x="643.1" y="469.2" textLength="34.0" lengthAdjust="spacingAndGlyphs">3616</text>
<polygon fill="url(#hs0)" points="657.00,476.84 657.09,476.51 694.09,406.80 694.32,406.56 694.65,406.48 694.98,406.56 695.21,406.80 696.91,409.00 697.00,409.33 696.91,409.65 659.91,479.37 659.68,479.60 659.35,479.69 659.02,479.60 658.79,479.37 657.09,477.16"/>
<text class="dl" x="680.1" y="399.5" textLength="34.0" lengthAdjust="spacingAndGlyphs">4331</text>
<polygon fill="url(#hs1)" points="694.00,407.13 694.09,406.80 694.32,406.56 694.65,406.48 732.65,404.24 732.98,404.32 733.21,404.56 734.91,406.76 735.00,407.09 734.91,407.41 734.68,407.65 734.35,407.74 696.35,409.98 696.02,409.89 695.79,409.65 694.09,407.45"/>
<text class="dl" x="718.1" y="397.3" textLength="34.0" lengthAdjust="spacingAndGlyphs">4354</text>
<polygon fill="url(#hs1)" points="732.00,404.88 732.09,404.56 732.32,404.32 732.65,404.24 769.65,398.09 769.98,398.18 770.21,398.42 771.91,400.62 772.00,400.94 771.91,401.27 771.68,401.51 771.35,401.59 734.35,407.74 734.02,407.65 733.79,407.41 732.09,405.21"/>
<text class="dl" x="755.1" y="391.1" textLength="34.0" lengthAdjust="spacingAndGlyphs">4417</text>
<polygon fill="url(#hs6)" points="769.00,398.74 769.09,398.42 769.32,398.18 769.65,398.09 769.98,398.18 770.21,398.42 771.91,400.62 808.91,491.20 809.00,491.52 808.91,491.85 808.68,492.08 808.35,492.17 808.02,492.08 807.79,491.85 806.09,489.64 769.09,399.07"/>
<text class="dl" x="792.1" y="481.7" textLength="34.0" lengthAdjust="spacingAndGlyphs">3488</text>
<polygon fill="url(#hs6)" points="806.00,489.32 806.09,489.00 806.32,488.76 806.65,488.67 806.98,488.76 807.21,489.00 808.91,491.20 845.91,575.43 846.00,575.76 845.91,576.09 845.68,576.32 845.35,576.41 845.02,576.32 844.79,576.09 843.09,573.88 806.09,489.64"/>
<text class="dl" x="829.1" y="566.0" textLength="34.0" lengthAdjust="spacingAndGlyphs">2624</text>
<polygon fill="url(#hs1)" points="843.00,573.56 881.00,384.02 881.09,383.69 881.32,383.46 881.65,383.37 881.98,383.46 882.21,383.69 883.91,385.90 884.00,386.22 846.00,575.76 845.91,576.09 845.68,576.32 845.35,576.41 845.02,576.32 844.79,576.09 843.09,573.88"/>
<text class="dl" x="867.1" y="376.4" textLength="34.0" lengthAdjust="spacingAndGlyphs">4568</text>
<polygon fill="url(#hs6)" points="881.00,384.02 881.09,383.69 881.32,383.46 881.65,383.37 881.98,383.46 882.21,383.69 883.91,385.90 920.91,454.83 921.00,455.15 920.91,455.48 920.68,455.72 920.35,455.80 920.02,455.72 919.79,455.48 918.09,453.28 881.09,384.34"/>
<text class="dl" x="904.1" y="445.4" textLength="34.0" lengthAdjust="spacingAndGlyphs">3861</text>
<polygon fill="url(#hs3)" points="918.00,452.95 918.09,452.63 918.32,452.39 918.65,452.30 918.98,452.39 919.21,452.63 920.91,454.83 921.00,455.15 958.00,680.57 957.91,680.90 957.68,681.14 957.35,681.22 957.02,681.14 956.79,680.90 955.09,678.70 955.00,678.37"/>
<text class="dl" x="941.1" y="670.8" textLength="34.0" lengthAdjust="spacingAndGlyphs">1549</text>
<polygon fill="url(#hs0)" points="955.00,678.37 955.09,678.05 992.09,621.89 992.32,621.65 992.65,621.56 992.98,621.65 993.21,621.89 994.91,624.09 995.00,624.41 994.91,624.74 957.91,680.90 957.68,681.14 957.35,681.22 957.02,681.14 956.79,680.90 955.09,678.70"/>
<text class="dl" x="978.1" y="614.6" textLength="34.0" lengthAdjust="spacingAndGlyphs">2125</text>
<polygon fill="url(#hs6)" points="992.00,622.21 992.09,621.89 992.32,621.65 992.65,621.56 992.98,621.65 993.21,621.89 1031.21,664.20 1032.91,666.40 1033.00,666.73 1032.91,667.05 1032.67,667.29 1032.35,667.38 1032.02,667.29 1031.79,667.05 993.79,624.74 992.09,622.54"/>
<text class="dl" x="1016.1" y="656.9" textLength="34.0" lengthAdjust="spacingAndGlyphs">1691</text>
<polygon fill="url(#hs0)" points="1030.00,664.53 1030.09,664.20 1067.09,603.75 1067.33,603.51 1067.65,603.43 1067.98,603.51 1068.21,603.75 1069.91,605.95 1070.00,606.28 1069.91,606.60 1032.91,667.05 1032.67,667.29 1032.35,667.38 1032.02,667.29 1031.79,667.05 1030.09,664.85"/>
<text class="dl" x="1053.1" y="596.5" textLength="34.0" lengthAdjust="spacingAndGlyphs">2311</text>
<polygon fill="url(#hs6)" points="1067.00,604.08 1067.09,603.75 1067.33,603.51 1067.65,603.43 1067.98,603.51 1104.98,625.16 1105.21,625.40 1106.91,627.60 1107.00,627.92 1106.91,628.25 1106.67,628.49 1106.35,628.57 1106.02,628.49 1069.02,606.84 1068.79,606.60 1067.09,604.40"/>
<text class="dl" x="1090.1" y="618.1" textLength="34.0" lengthAdjust="spacingAndGlyphs">2089</text>
<polygon fill="url(#hs1)" points="1104.00,625.72 1141.00,462.70 1141.09,462.38 1141.33,462.14 1141.65,462.05 1141.98,462.14 1142.21,462.38 1143.91,464.58 1144.00,464.90 1107.00,627.92 1106.91,628.25 1106.67,628.49 1106.35,628.57 1106.02,628.49 1105.79,628.25 1104.09,626.05"/>
<text class="dl" x="1127.1" y="455.1" textLength="34.0" lengthAdjust="spacingAndGlyphs">3761</text>
<polygon fill="url(#hs1)" points="1141.00,462.70 1141.09,462.38 1141.33,462.14 1141.65,462.05 1179.65,457.76 1179.98,457.85 1180.21,458.09 1181.91,460.29 1182.00,460.61 1181.91,460.94 1181.67,461.18 1181.35,461.26 1143.35,465.55 1143.02,465.47 1142.79,465.23 1141.09,463.03"/>
<text class="dl" x="1165.1" y="450.8" textLength="34.0" lengthAdjust="spacingAndGlyphs">3805</text>
<text x="78.25" y="838.10" font-size="21.33" textLength="11.65" lengthAdjust="spacingAndGlyphs" stroke="#000">0</text>
<text x="43.31" y="682.10" font-size="21.33" textLength="46.59" lengthAdjust="spacingAndGlyphs" stroke="#000">1600</text>
<text x="43.31" y="526.10" font-size="21.33" textLength="46.59" lengthAdjust="spacingAndGlyphs" stroke="#000">3200</text>
<text x="43.31" y="370.10" font-size="21.33" textLength="46.59" lengthAdjust="spacingAndGlyphs" stroke="#000">4800</text>
<text x="43.31" y="214.10" font-size="21.33" textLength="46.59" lengthAdjust="spacingAndGlyphs" stroke="#000">6400</text>
<text x="43.31" y="58.10" font-size="21.33" textLength="46.59" lengthAdjust="spacingAndGlyphs" stroke="#000">8000</text>
<text x="94.98" y="854.80" font-size="21.33" textLength="11.65" lengthAdjust="spacingAndGlyphs" stroke="#000">1</text>
<text x="131.98" y="854.80" font-size="21.33" textLength="11.65" lengthAdjust="spacingAndGlyphs" stroke="#000">2</text>
<text x="168.98" y="854.80" font-size="21.33" textLength="11.65" lengthAdjust="spacingAndGlyphs" stroke="#000">3</text>
<text x="205.98" y="854.80" font-size="21.33" textLength="11.65" lengthAdjust="spacingAndGlyphs" stroke="#000">4</text>
<text x="242.98" y="854.80" font-size="21.33" textLength="11.65" lengthAdjust="spacingAndGlyphs" stroke="#000">5</text>
<text x="273.36" y="854.80" font-size="21.33" textLength="24.68" lengthAdjust="spacingAndGlyphs" stroke="#000">SA</text>
<text x="309.21" y="854.80" font-size="21.33" textLength="26.99" lengthAdjust="spacingAndGlyphs" fill="#ff0000" stroke="#ff0000">SO</text>
<text x="354.98" y="854.80" font-size="21.33" textLength="11.65" lengthAdjust="spacingAndGlyphs" stroke="#000">8</text>
<text x="391.98" y="854.80" font-size="21.33" textLength="11.65" lengthAdjust="spacingAndGlyphs" stroke="#000">9</text>
<text x="423.05" y="854.80" font-size="21.33" textLength="23.30" lengthAdjust="spacingAndGlyphs" stroke="#000">10</text>
<text x="460.05" y="854.80" font-size="21.33" textLength="23.30" lengthAdjust="spacingAndGlyphs" stroke="#000">11</text>
<text x="497.05" y="854.80" font-size="21.33" textLength="23.30" lengthAdjust="spacingAndGlyphs" stroke="#000">12</text>
<text x="533.36" y="854.80" font-size="21.33" textLength="24.68" lengthAdjust="spacingAndGlyphs" stroke="#000">SA</text>
<text x="570.21" y="854.80" font-size="21.33" textLength="26.99" lengthAdjust="spacingAndGlyphs" fill="#ff0000" stroke="#ff0000">SO</text>
<text x="609.05" y="854.80" font-size="21.33" textLength="23.30" lengthAdjust="spacingAndGlyphs" stroke="#000">15</text>
<text x="646.05" y="854.80" font-size="21.33" textLength="23.30" lengthAdjust="spacingAndGlyphs" stroke="#000">16</text>
<text x="683.05" y="854.80" font-size="21.33" textLength="23.30" lengthAdjust="spacingAndGlyphs" stroke="#000">17</text>
<text x="721.05" y="854.80" font-size="21.33" textLength="23.30" lengthAdjust="spacingAndGlyphs" stroke="#000">18</text>
<text x="758.05" y="854.80" font-size="21.33" textLength="23.30" lengthAdjust="spacingAndGlyphs" stroke="#000">19</text>
<text x="794.36" y="854.80" font-size="21.33" textLength="24.68" lengthAdjust="spacingAndGlyphs" stroke="#000">SA</text>
<text x="830.21" y="854.80" font-size="21.33" textLength="26.99" lengthAdjust="spacingAndGlyphs" fill="#ff0000" stroke="#ff0000">SO</text>
<text x="870.05" y="854.80" font-size="21.33" textLength="23.30" lengthAdjust="spacingAndGlyphs" stroke="#000">22</text>
<text x="907.05" y="854.80" font-size="21.33" textLength="23.30" lengthAdjust="spacingAndGlyphs" stroke="#000">23</text>
<text x="944.05" y="854.80" font-size="21.33" textLength="23.30" lengthAdjust="spacingAndGlyphs" stroke="#000">24</text>
<text x="981.05" y="854.80" font-size="21.33" textLength="23.30" lengthAdjust="spacingAndGlyphs" stroke="#000">25</text>
<text x="1019.05" y="854.80" font-size="21.33" textLength="23.30" lengthAdjust="spacingAndGlyphs" stroke="#000">26</text>
<text x="1055.36" y="854.80" font-size="21.33" textLength="24.68" lengthAdjust="spacingAndGlyphs" stroke="#000">SA</text>
<text x="1091.21" y="854.80" font-size="21.33" textLength="26.99" lengthAdjust="spacingAndGlyphs" fill="#ff0000" stroke="#ff0000">SO</text>
<text x="1130.05" y="854.80" font-size="21.33" textLength="23.30" lengthAdjust="spacingAndGlyphs" stroke="#000">29</text>
<text x="1168.05" y="854.80" font-size="21.33" textLength="23.30" lengthAdjust="spacingAndGlyphs" stroke="#000">30</text>
<text y="883.00" font-size="21.33" stroke="#000"><tspan x="543.43" textLength="101.87" lengthAdjust="spacingAndGlyphs">September</tspan> <tspan x="651.98" textLength="46.59" lengthAdjust="spacingAndGlyphs">2025</tspan></text>
<text y="37.50" font-size="26.67" stroke="#000"><tspan x="324.60" textLength="110.96" lengthAdjust="spacingAndGlyphs">Zählstelle</tspan> <tspan x="443.91" textLength="117.47" lengthAdjust="spacingAndGlyphs">Opernring</tspan> <tspan x="569.72" textLength="68.61" lengthAdjust="spacingAndGlyphs">Innen</tspan> <tspan x="646.68" textLength="127.33" lengthAdjust="spacingAndGlyphs">September</tspan> <tspan x="782.37" textLength="58.24" lengthAdjust="spacingAndGlyphs">2025</tspan></text>
<text transform="translate(28,440.2) rotate(-90)" x="0 0 0 0 0 0 0 0 0 0 0 0 0" y="0" font-size="21.33" stroke="#000" stroke-width="0.9">Radfahrer/day</text>
<g stroke="#9a9a9a" stroke-width="1">
<line x1="1270.5" y1="65" x2="1270.5" y2="206"/><line x1="1340.5" y1="65" x2="1340.5" y2="206"/>
<line x1="1200" y1="100.5" x2="1411" y2="100.5"/>
<line x1="1200" y1="135.5" x2="1411" y2="135.5"/>
<line x1="1200" y1="170.5" x2="1411" y2="170.5"/>
</g>
<text x="1275.00" y="90.00" font-size="21.33" textLength="46.59" lengthAdjust="spacingAndGlyphs" stroke="#000">2024</text>
<text x="1345.00" y="90.00" font-size="21.33" textLength="46.59" lengthAdjust="spacingAndGlyphs" stroke="#000">2025</text>
<text x="1200.00" y="125.00" font-size="21.33" textLength="54.57" lengthAdjust="spacingAndGlyphs" stroke="#000">Mo-Fr</text>
<text x="1279.00" y="125.00" font-size="18.67" textLength="40.77" lengthAdjust="spacingAndGlyphs" stroke="#000">3443</text>
<text x="1349.00" y="125.00" font-size="18.67" textLength="40.77" lengthAdjust="spacingAndGlyphs" stroke="#000">3869</text>
<text x="1200.00" y="160.00" font-size="21.33" textLength="23.08" lengthAdjust="spacingAndGlyphs" stroke="#000">Sa</text>
<text x="1279.00" y="160.00" font-size="18.67" textLength="40.77" lengthAdjust="spacingAndGlyphs" stroke="#000">2421</text>
<text x="1349.00" y="160.00" font-size="18.67" textLength="40.77" lengthAdjust="spacingAndGlyphs" stroke="#000">2814</text>
<text x="1200.00" y="193.00" font-size="21.33" textLength="34.58" lengthAdjust="spacingAndGlyphs" stroke="#000">SoF</text>
<text x="1279.00" y="193.00" font-size="18.67" textLength="40.77" lengthAdjust="spacingAndGlyphs" stroke="#000">2411</text>
<text x="1349.00" y="193.00" font-size="18.67" textLength="40.77" lengthAdjust="spacingAndGlyphs" stroke="#000">2399</text>
<text y="228.00" font-size="21.33" stroke="#000"><tspan x="1251.09" textLength="39.66" lengthAdjust="spacingAndGlyphs">DTV</tspan> <tspan x="1297.42" textLength="56.49" lengthAdjust="spacingAndGlyphs">Werte</tspan></text>
<rect x="1200" y="500" width="51" height="11" fill="#fdce92"/>
<text y="511.00" font-size="18.67" fill="#fdce92" stroke="#fdce92"><tspan x="1257.00" textLength="72.28" lengthAdjust="spacingAndGlyphs">Richtung</tspan> <tspan x="1335.12" textLength="83.03" lengthAdjust="spacingAndGlyphs">Parlament</tspan></text>
<rect x="1200" y="540" width="51" height="11" fill="#5a2d17"/>
<text y="551.00" font-size="18.67" fill="#5a2d17" stroke="#5a2d17"><tspan x="1257.00" textLength="72.28" lengthAdjust="spacingAndGlyphs">Richtung</tspan> <tspan x="1335.12" textLength="40.08" lengthAdjust="spacingAndGlyphs">Oper</tspan></text>
<rect x="1200" y="580" width="51" height="11" fill="#ff7800"/>
<text x="1257.00" y="591.00" font-size="18.67" textLength="61.99" lengthAdjust="spacingAndGlyphs" fill="#ff7800" stroke="#ff7800">Summe</text>
<rect x="1200" y="750" width="243" height="75" fill="#fff"/>
<text x="1211.4" y="783.3" stroke="#cc3333" stroke-width="0.5" font-family="'DejaVu Sans','Liberation Sans',sans-serif" font-weight="bold" font-size="17.5" fill="#cc3333" textLength="63.8" lengthAdjust="spacingAndGlyphs">nast</text>
<text x="1281.6" y="783.3" stroke="#444" stroke-width="0.5" font-family="'DejaVu Sans','Liberation Sans',sans-serif" font-weight="bold" font-size="17.5" fill="#444" textLength="146" lengthAdjust="spacingAndGlyphs">consulting</text>
<text x="1212.2" y="807.5" font-family="'Liberation Sans',sans-serif" font-weight="bold" font-size="17.5" fill="#444" textLength="213" lengthAdjust="spacing">www.nast.at</text>
<rect x="1210" y="791" width="219" height="1" fill="#f4f4f4"/>
</svg>
</body></html>
